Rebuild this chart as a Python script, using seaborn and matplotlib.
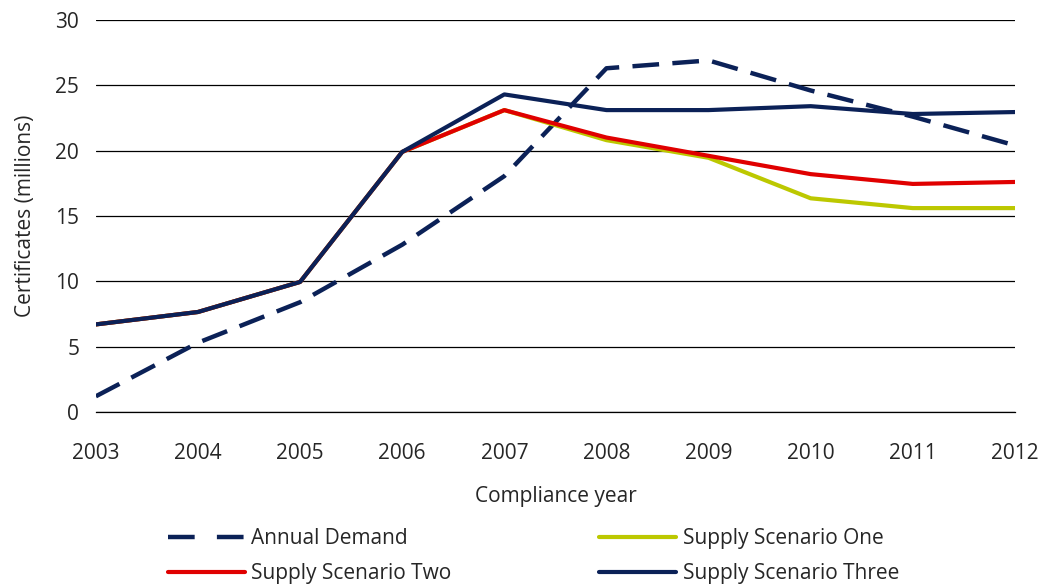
import seaborn as sns
import pandas as pd
import matplotlib.pyplot as plt
from matplotlib.lines import Line2D

sns.set_style('white')
plt.rcParams['font.family'] = ['Open Sans', 'DejaVu Sans']

years = [2003, 2004, 2005, 2006, 2007, 2008, 2009, 2010, 2011, 2012]
annual_demand = [1.2, 5.3, 8.4, 12.8, 18.05, 26.3, 26.9, 24.6, 22.6, 20.4]
scenario_one = [6.7, 7.65, 9.95, 19.9, 23.1, 20.8, 19.45, 16.35, 15.6, 15.6]
scenario_two = [6.7, 7.65, 9.95, 19.9, 23.1, 21.0, 19.6, 18.2, 17.45, 17.6]
scenario_three = [6.7, 7.65, 9.95, 19.9, 24.3, 23.1, 23.1, 23.4, 22.8, 22.95]

navy = '#0B2157'
green = '#BCC800'
red = '#E00000'

df = pd.DataFrame({'year': years, 'Annual Demand': annual_demand,
                   'Supply Scenario One': scenario_one,
                   'Supply Scenario Two': scenario_two,
                   'Supply Scenario Three': scenario_three})

fig = plt.figure(figsize=(10.42, 5.86), dpi=100)
ax = fig.add_axes([0.092, 0.297, 0.882, 0.669])

ax.yaxis.grid(True, color='black', linewidth=0.9)
ax.set_axisbelow(True)

# demand is dashed, the three supply scenarios solid
sns.lineplot(data=df, x='year', y='Annual Demand', ax=ax, color=navy, linewidth=3.2,
             linestyle=(0, (6, 3)))
sns.lineplot(data=df, x='year', y='Supply Scenario One', ax=ax, color=green, linewidth=3)
sns.lineplot(data=df, x='year', y='Supply Scenario Two', ax=ax, color=red, linewidth=3)
sns.lineplot(data=df, x='year', y='Supply Scenario Three', ax=ax, color=navy, linewidth=3)

ax.set_xlim(2003, 2012)
ax.set_ylim(0, 30)
ax.set_xticks(years)
ax.set_xticklabels([str(y) for y in years])
ax.set_yticks([0, 5, 10, 15, 20, 25, 30])
for s in ['top', 'right', 'left']:
    ax.spines[s].set_visible(False)
ax.spines['bottom'].set_color('black')
ax.spines['bottom'].set_linewidth(0.9)
ax.tick_params(axis='x', length=7, color='#888888', width=1, pad=15, labelsize=15)
ax.tick_params(axis='y', length=0, pad=12, labelsize=15)
ax.set_xlabel('Compliance year', fontsize=15, labelpad=16)
ax.set_ylabel('Certificates (millions)', fontsize=15, labelpad=14)

# legend is filled column by column, so order to read row-wise like the original
handles = [Line2D([], [], color=navy, lw=3.2, linestyle=(0, (6, 5))),
           Line2D([], [], color=red, lw=3),
           Line2D([], [], color=green, lw=3),
           Line2D([], [], color=navy, lw=3)]
labels = ['Annual Demand', 'Supply Scenario Two', 'Supply Scenario One', 'Supply Scenario Three']
fig.legend(handles, labels, ncol=2, loc='center', bbox_to_anchor=(0.512, 0.051),
           frameon=False, fontsize=15, handlelength=3.7, handletextpad=0.3,
           columnspacing=7.1, labelspacing=0.66)

fig.savefig('out.png', dpi=100)
